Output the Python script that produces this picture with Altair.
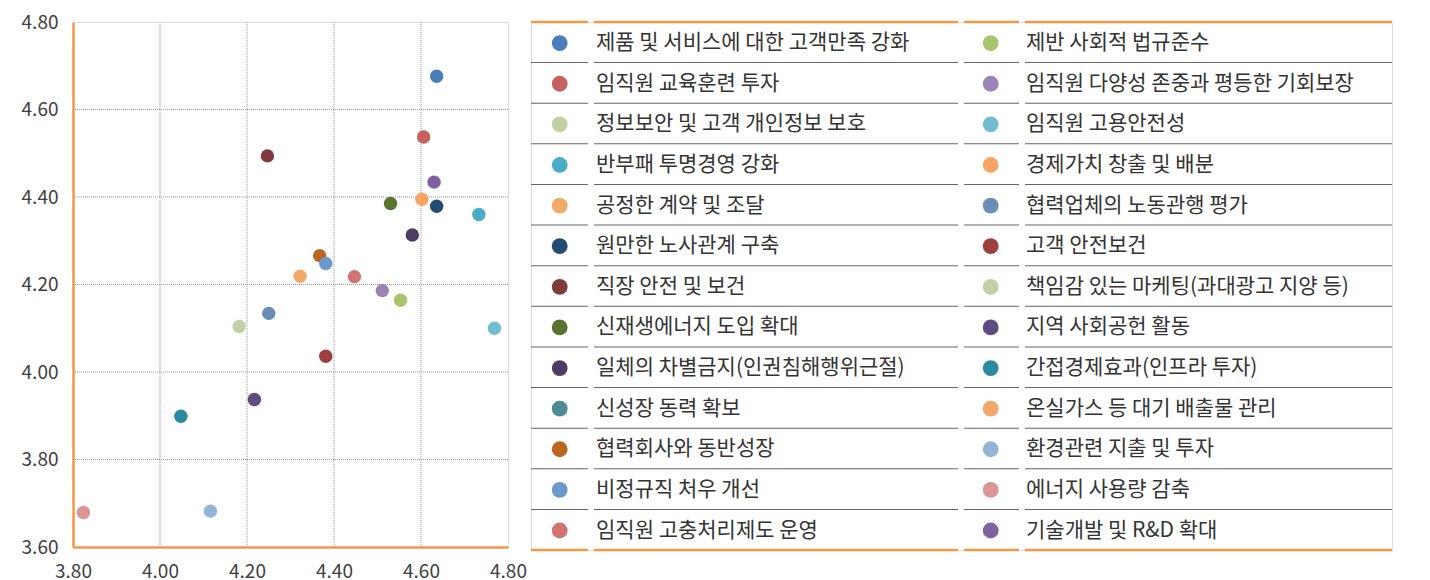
import altair as alt
import pandas as pd

labels = [
    "제품 및 서비스에 대한 고객만족 강화", "임직원 교육훈련 투자", "정보보안 및 고객 개인정보 보호",
    "반부패 투명경영 강화", "공정한 계약 및 조달", "원만한 노사관계 구축", "직장 안전 및 보건",
    "신재생에너지 도입 확대", "일체의 차별금지(인권침해행위근절)", "신성장 동력 확보",
    "협력회사와 동반성장", "비정규직 처우 개선", "임직원 고충처리제도 운영",
    "제반 사회적 법규준수", "임직원 다양성 존중과 평등한 기회보장", "임직원 고용안전성",
    "경제가치 창출 및 배분", "협력업체의 노동관행 평가", "고객 안전보건",
    "책임감 있는 마케팅(과대광고 지양 등)", "지역 사회공헌 활동", "간접경제효과(인프라 투자)",
    "온실가스 등 대기 배출물 관리", "환경관련 지출 및 투자", "에너지 사용량 감축",
    "기술개발 및 R&D 확대",
]
colors = [
    "#4a7ebb", "#c46262", "#c3d0a5", "#4bacc6", "#f2a96c", "#264b72", "#7f3c3c",
    "#5a7430", "#4d3d63", "#4f8b97", "#bb651e", "#6c98cc", "#d07474",
    "#aac46e", "#9a84b5", "#72bdd0", "#f6a565", "#6b8db5", "#9e3f3f",
    "#c3d0a5", "#5e4b82", "#2a889f", "#f2a66a", "#95b3d8", "#d99694",
    "#7f63a1",
]
x_vals = [
    4.636, 4.606, 4.182, 4.733, 4.322, 4.636, 4.247,
    4.530, 4.580, None, 4.367, 4.381, 4.447,
    4.553, 4.511, 4.769, 4.602, 4.250, 4.381,
    None, 4.217, 4.048, None, 4.116, 3.824,
    4.630,
]
y_vals = [
    4.676, 4.537, 4.104, 4.360, 4.219, 4.379, 4.494,
    4.385, 4.313, None, 4.266, 4.248, 4.218,
    4.164, 4.186, 4.100, 4.395, 4.134, 4.036,
    None, 3.937, 3.899, None, 3.682, 3.679,
    4.434,
]
x_ticks = [3.8, 4.0, 4.2, 4.4, 4.6, 4.8]
y_ticks = [3.6, 3.8, 4.0, 4.2, 4.4, 4.6, 4.8]
x_grid = [4.0, 4.2, 4.4, 4.6]
y_grid = [3.8, 4.0, 4.2, 4.4, 4.6]

ORANGE = "#f79646"
FONT = "Noto Sans CJK KR"

pts = pd.DataFrame({"label": labels, "x": x_vals, "y": y_vals}).dropna()
color_scale = alt.Scale(domain=labels, range=colors)
xs = alt.Scale(domain=[3.8, 4.8], nice=False, zero=False)
ys = alt.Scale(domain=[3.6, 4.8], nice=False, zero=False)

x_axis = alt.Axis(values=x_ticks, format=".2f", grid=False, ticks=False, domainColor=ORANGE,
                  domainWidth=2.5, labelFont=FONT, labelFontSize=19, labelColor="#404040",
                  labelPadding=15, labelFlush=False, title=None)
y_axis = alt.Axis(values=y_ticks, format=".2f", grid=False, ticks=False, domainColor=ORANGE,
                  domainWidth=2.5, labelFont=FONT, labelFontSize=19, labelColor="#404040",
                  labelPadding=15, labelFlush=False, title=None)

vgrid = alt.Chart(pd.DataFrame({"g": x_grid})).mark_rule(
    color="#999999", strokeDash=[1, 1], strokeWidth=1
).encode(x=alt.X("g:Q", scale=xs, axis=x_axis))
hgrid = alt.Chart(pd.DataFrame({"g": y_grid})).mark_rule(
    color="#999999", strokeDash=[1, 1], strokeWidth=1
).encode(y=alt.Y("g:Q", scale=ys, axis=y_axis))
dots = alt.Chart(pts).mark_circle(size=180, opacity=1).encode(
    x=alt.X("x:Q", scale=xs, axis=x_axis),
    y=alt.Y("y:Q", scale=ys, axis=y_axis),
    color=alt.Color("label:N", scale=color_scale, legend=None),
)
scatter = alt.layer(vgrid, hgrid, dots).properties(width=435, height=525)

# ---- legend table ----
NROWS = 13
LW = 861
LH = 528
col_marker = [(0, 57), (433, 488)]
col_text = [(63, 427), (494, 861)]
marker_cx = [28.7, 459.7]
text_x = [65, 495]
px = NROWS / LH  # one pixel in row units

leg = []
for i, lab in enumerate(labels):
    c, r = divmod(i, NROWS)
    leg.append({"label": lab, "mx": marker_cx[c], "tx": text_x[c], "row": r + 0.52})
leg = pd.DataFrame(leg)

seps_gray, seps_orange = [], []
for k in range(NROWS + 1):
    for c in range(2):
        for (a, b) in (col_marker[c], col_text[c]):
            if k in (0, NROWS):
                seps_orange.append({"y1": k - 1.25 * px, "y2": k + 1.25 * px, "x1": a, "x2": b})
            else:
                seps_gray.append({"y1": k - 0.5 * px, "y2": k + 0.5 * px, "x1": a, "x2": b})

lx = alt.Scale(domain=[0, LW], nice=False, zero=False)
ly = alt.Scale(domain=[0, NROWS], nice=False, zero=False, reverse=True)

gray_rules = alt.Chart(pd.DataFrame(seps_gray)).mark_rect(color="#666666", strokeWidth=0).encode(
    x=alt.X("x1:Q", scale=lx, axis=None), x2="x2:Q",
    y=alt.Y("y1:Q", scale=ly, axis=None), y2="y2:Q")
orange_rules = alt.Chart(pd.DataFrame(seps_orange)).mark_rect(color=ORANGE, strokeWidth=0).encode(
    x=alt.X("x1:Q", scale=lx, axis=None), x2="x2:Q",
    y=alt.Y("y1:Q", scale=ly, axis=None), y2="y2:Q")
leg_dots = alt.Chart(leg).mark_circle(size=250, opacity=1).encode(
    x=alt.X("mx:Q", scale=lx, axis=None), y=alt.Y("row:Q", scale=ly, axis=None),
    color=alt.Color("label:N", scale=color_scale, legend=None))
leg_text = alt.Chart(leg).mark_text(align="left", baseline="middle", font=FONT, fontSize=21,
                                    color="#333333").encode(
    x=alt.X("tx:Q", scale=lx, axis=None), y=alt.Y("row:Q", scale=ly, axis=None), text="label:N")
legend = alt.layer(gray_rules, orange_rules, leg_dots, leg_text).properties(width=LW, height=LH)

chart = alt.hconcat(scatter, legend, spacing=3).properties(
    padding={"left": 12, "top": 4, "right": 5, "bottom": 0}
).configure_view(strokeWidth=0, stroke="transparent").configure(background="white")

chart.save("out.html", embed_options={"renderer": "svg", "actions": False})
